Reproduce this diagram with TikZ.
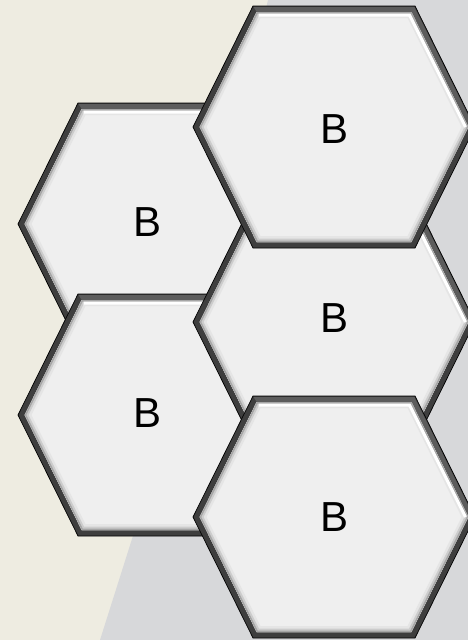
\documentclass[tikz,border=0pt]{standalone}
\usepackage{fontspec}
\setmainfont{Liberation Sans}
\definecolor{bgbeige}{HTML}{EEECE1}
\definecolor{bggray}{HTML}{D7D8DA}
\definecolor{hexfill}{HTML}{EFEFEF}
\definecolor{hexrim}{HTML}{3E3E3E}
\definecolor{hexrimlight}{HTML}{5C5C5C}
\tikzset{
  hexp/.style={insert path={(-141+1.116*#1,0) -- (-81+0.62*#1,-121+#1) -- (81-0.62*#1,-121+#1) -- (141-1.116*#1,0) -- (81-0.62*#1,121-#1) -- (-81+0.62*#1,121-#1) -- cycle}},
  hexa/.pic={
    \path[fill=hexrim, draw=black, line width=0.7, hexp=0];
    \path[fill=hexrimlight] (-81+0.62,-120) -- (81-0.62,-120) -- (141-1.116,0) -- (141-1.116*6,0) -- (81-0.62*6,-115) -- (-81+0.62*6,-115) -- cycle;
    \path[fill=hexfill, hexp=6];
    \begin{scope}
      \clip[hexp=6];
      \path[draw=black!10, line width=12, hexp=6];
      \path[draw=black!20, line width=7, hexp=6];
      \path[draw=black!35, line width=3, hexp=6];
    \end{scope}
    \draw[black!35, line width=1] (-77,-114.5) -- (77,-114.5) -- (133.5,0);
    \draw[white, line width=3, line join=miter] (-75.5,-112) -- (75.5,-112) -- (131.5,0);
  },
  btext/.style={font=\fontsize{42}{50}\selectfont, text=black, inner sep=0pt}
}
\begin{document}
\begin{tikzpicture}[x=1pt,y=-1pt]
  \useasboundingbox (0,0) rectangle (468,640);
  \clip (0,0) rectangle (468,640);
  \fill[bgbeige] (0,0) rectangle (468,640);
  \fill[bggray] (268,0) -- (468,0) -- (468,640) -- (100,640) -- (138,520) -- (170,420) -- cycle;
  % hexagons, back to front
  \pic at (159,224) {hexa};
  \pic at (159,415) {hexa};
  \pic at (334,322) {hexa};
  \pic at (334,127) {hexa};
  \pic at (334,517) {hexa};
  % labels
  \node[btext] (b2) at (148,222) {B};
  \node[btext] (b4) at (148,413) {B};
  \node[btext] (b3) at (335,318) {B};
  \node[btext] (b1) at (335,129) {B};
  \node[btext] (b5) at (335,517) {B};
\end{tikzpicture}
\end{document}
